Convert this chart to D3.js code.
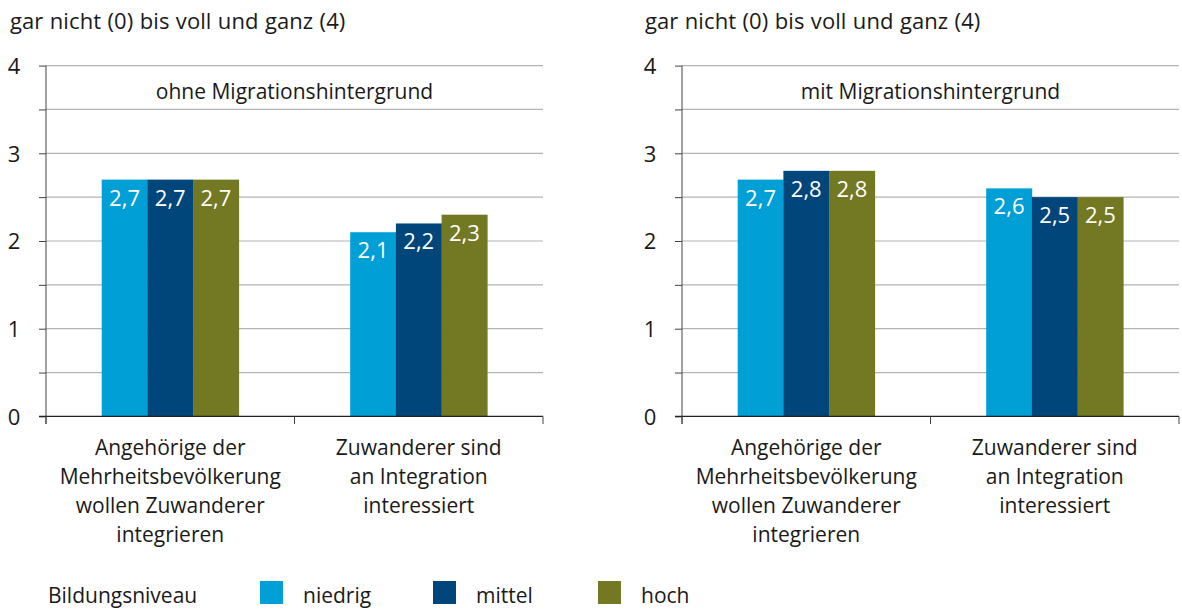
<!DOCTYPE html>
<html><head><meta charset="utf-8">
<script src="https://cdn.jsdelivr.net/npm/d3@7"></script>
<style>
body{margin:0;background:#fff;}
svg text{font-family:"Open Sans",sans-serif;fill:#1a1a1a;}
</style></head><body>
<svg id="chart" width="1182" height="610"></svg>
<script>
const categories = [
  ["Angehörige der","Mehrheitsbevölkerung","wollen Zuwanderer","integrieren"],
  ["Zuwanderer sind","an Integration","interessiert"]
];
const seriesNames = ["niedrig","mittel","hoch"];
const colors = ["#009fd6","#00467a","#737822"];
const panelTitles = ["ohne Migrationshintergrund","mit Migrationshintergrund"];
const ohneValues = [[2.7,2.7,2.7],[2.1,2.2,2.3]];
const mitValues = [[2.7,2.8,2.8],[2.6,2.5,2.5]];
const yTicks = [0,0.5,1,1.5,2,2.5,3,3.5,4];
const yTitle = "gar nicht (0) bis voll und ganz (4)";
const legendTitle = "Bildungsniveau";

const svg = d3.select("#chart");
const fs = 21;
const panels = [
  {x0:46, x1:543, values:ohneValues, title:panelTitles[0], titleX:10},
  {x0:682, x1:1179, values:mitValues, title:panelTitles[1], titleX:645}
];
const y = d3.scaleLinear().domain([0,4]).range([416.4,65.6]);

panels.forEach(p=>{
  const g = svg.append("g");
  const x = d3.scaleBand().domain(d3.range(categories.length)).range([p.x0,p.x1]);
  const barW = 45.7;
  const inner = d3.scaleBand().domain(seriesNames).range([-barW*1.5, barW*1.5]);

  // title
  g.append("text").attr("x",p.titleX).attr("y",29).style("font-size","22px")
    .style("letter-spacing","0.1px").style("word-spacing","0.5px").text(yTitle);

  // gridlines
  g.selectAll("line.grid").data(yTicks.filter(t=>t>0)).join("line")
    .attr("x1",p.x0).attr("x2",p.x1).attr("y1",d=>y(d)).attr("y2",d=>y(d))
    .attr("stroke","#b4b4b4").attr("stroke-width",1.2);

  // y axis
  const ya = d3.axisLeft(y).tickValues(yTicks).tickSize(7).tickFormat(d=>Number.isInteger(d)?d:"");
  const yg = g.append("g").attr("transform",`translate(${p.x0},0)`).call(ya);
  yg.select(".domain").remove();
  yg.selectAll(".tick line").attr("stroke","#444");
  yg.selectAll(".tick text").attr("x",-32).attr("text-anchor","middle").attr("dy","0.35em")
    .style("font-size","22px").attr("fill","#1a1a1a");
  g.append("line").attr("x1",p.x0).attr("x2",p.x0).attr("y1",y(4)).attr("y2",424)
    .attr("stroke","#444").attr("stroke-width",1);

  // panel label
  g.append("text").attr("x",(p.x0+p.x1)/2).attr("y",99).attr("text-anchor","middle")
    .style("font-size",fs+"px").text(p.title);

  // bars
  p.values.forEach((vals,ci)=>{
    const cx = x(ci)+x.bandwidth()/2;
    vals.forEach((v,si)=>{
      const bx = cx+inner(seriesNames[si]);
      g.append("rect").attr("x",bx).attr("y",y(v)).attr("width",inner.bandwidth()+0.3)
        .attr("height",y(0)-y(v)).attr("fill",colors[si]);
      g.append("text").attr("x",bx+inner.bandwidth()/2).attr("y",y(v)+26)
        .attr("text-anchor","middle").style("font-size","22px").style("fill","#fff")
        .style("font-weight","500")
        .text(d3.format(".1f")(v).replace(".",","));
    });
  });

  // x axis
  g.append("line").attr("x1",p.x0-7).attr("x2",p.x1).attr("y1",y(0)).attr("y2",y(0))
    .attr("stroke","#222").attr("stroke-width",1.4);
  const xt = [p.x0, (p.x0+p.x1)/2, p.x1];
  g.selectAll("line.xt").data(xt).join("line").attr("x1",d=>d).attr("x2",d=>d)
    .attr("y1",y(0)).attr("y2",424).attr("stroke","#444");

  categories.forEach((lines,ci)=>{
    const t = g.append("text").attr("x",x(ci)+x.bandwidth()/2).attr("y",455)
      .attr("text-anchor","middle").style("font-size",fs+"px");
    lines.forEach((l,li)=>t.append("tspan").attr("x",x(ci)+x.bandwidth()/2).attr("y",455+li*29).text(l));
  });
});

// legend
const lg = svg.append("g");
lg.append("text").attr("x",48).attr("y",603).style("font-size",fs+"px").text(legendTitle);
const legX = [260,433,598];
seriesNames.forEach((s,i)=>{
  lg.append("rect").attr("x",legX[i]).attr("y",581).attr("width",23).attr("height",23).attr("fill",colors[i]);
  lg.append("text").attr("x",legX[i]+43).attr("y",603).style("font-size",fs+"px").text(s);
});
</script>
</body></html>
